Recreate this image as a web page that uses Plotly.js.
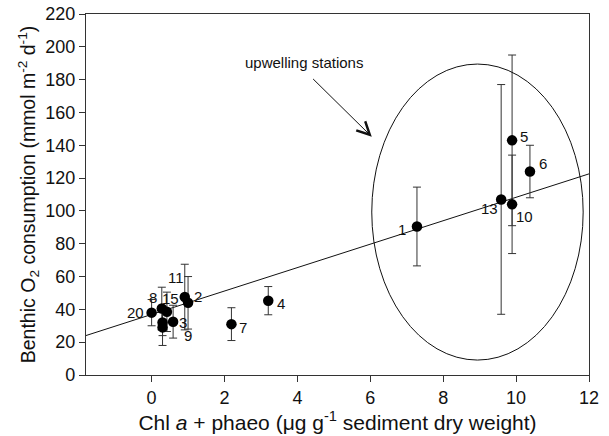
<!DOCTYPE html>
<html>
<head>
<meta charset="utf-8">
<script src="https://cdn.plot.ly/plotly-3.0.1.min.js"></script>
<style>
  html, body { margin: 0; padding: 0; background: #fff; }
  #chart { width: 609px; height: 436px; }
</style>
</head>
<body>
<div id="chart"></div>
<script>
// Station identifiers ('' = unlabelled station)
const stations = ['20', '8', '15', '', '9', '3', '11', '2', '7', '4', '1', '13', '5', '10', '6'];
// Chl a + phaeo (µg g-1 sediment dry weight)
const pigment = [0.00, 0.28, 0.42, 0.30, 0.30, 0.59, 0.91, 1.00, 2.19, 3.20, 7.28, 9.59, 9.89, 9.89, 10.38];
// Benthic O2 consumption (mmol m-2 d-1)
const oxygen = [38, 40.5, 38.5, 32, 29, 32.5, 47.5, 44, 31, 45.3, 90.5, 107, 143, 104, 124];
// Error (± mmol m-2 d-1)
const oxygenErr = [8, 13, 12, 8, 11, 10, 20, 16, 10, 8.6, 24, 70, 52, 30, 16];

// Linear regression of O2 consumption on pigment content
const fitIntercept = 36.9;
const fitSlope = 7.14;

// Label offsets (px) relative to each station marker
const labelShift = [
  [-16, 0], [-9, 11], [4, 13], [0, 0], [25, -8], [10, -1], [-9, 20], [10, 6],
  [12, -3], [13, -3], [-15, -3], [-12, -9], [12, 4], [12, -12], [13, 8]
];

const xRange = [-1.8, 12];
const yRange = [0, 220];
const font = 'Liberation Sans, Arial, Helvetica, sans-serif';

const fitX = [xRange[0], xRange[1]];
const fitY = fitX.map(x => fitIntercept + fitSlope * x);

const traces = [
  {
    type: 'scatter', mode: 'lines',
    x: fitX, y: fitY,
    line: { color: '#111', width: 1 },
    hoverinfo: 'skip'
  },
  {
    type: 'scatter', mode: 'markers',
    x: pigment, y: oxygen,
    error_y: { type: 'data', array: oxygenErr, visible: true, color: '#333', thickness: 1, width: 4 },
    marker: { color: '#000', size: 10.5 }
  }
];

const annotations = stations.map((s, i) => ({
  x: pigment[i], y: oxygen[i], xref: 'x', yref: 'y',
  text: s, showarrow: false,
  xshift: labelShift[i][0], yshift: labelShift[i][1],
  font: { family: font, size: 15, color: '#111' }
})).filter(a => a.text !== '');

annotations.push({
  x: 4.18, y: 190.3, xref: 'x', yref: 'y',
  text: 'upwelling stations', showarrow: false,
  font: { family: font, size: 15, color: '#111' }
});
annotations.push({
  x: 6.04, y: 145.2, xref: 'x', yref: 'y',
  ax: 4.39, ay: 181.3, axref: 'x', ayref: 'y',
  text: '', showarrow: true,
  arrowhead: 5, arrowsize: 2.5, arrowwidth: 1, arrowcolor: '#111'
});

const layout = {
  width: 609, height: 436,
  margin: { l: 86, r: 20, t: 14, b: 61 },
  paper_bgcolor: '#fff', plot_bgcolor: '#fff',
  showlegend: false,
  font: { family: font, size: 18, color: '#111' },
  xaxis: {
    range: xRange, tickvals: [0, 2, 4, 6, 8, 10, 12],
    showgrid: false, zeroline: false,
    showline: true, mirror: true, linecolor: '#333', linewidth: 1.2,
    ticks: 'outside', ticklen: 6, tickcolor: '#333',
    tickfont: { family: font, size: 18 },
    title: { text: 'Chl <i>a</i> + phaeo (μg g<sup>-1</sup> sediment dry weight)', font: { family: font, size: 21 }, standoff: 4 }
  },
  yaxis: {
    range: yRange, dtick: 20,
    showgrid: false, zeroline: false,
    showline: true, mirror: true, linecolor: '#333', linewidth: 1.2,
    ticks: 'outside', ticklen: 6, tickcolor: '#333',
    tickfont: { family: font, size: 18 },
    title: { text: 'Benthic O<sub>2</sub> consumption (mmol m<sup>-2</sup> d<sup>-1</sup>)', font: { family: font, size: 19.5 }, standoff: 4 }
  },
  shapes: [
    {
      type: 'circle', xref: 'x', yref: 'y',
      x0: 6.04, x1: 11.84, y0: 9.1, y1: 189.5,
      line: { color: '#111', width: 1 }
    }
  ],
  annotations: annotations
};

Plotly.newPlot('chart', traces, layout, { displayModeBar: false, staticPlot: true });
</script>
</body>
</html>
